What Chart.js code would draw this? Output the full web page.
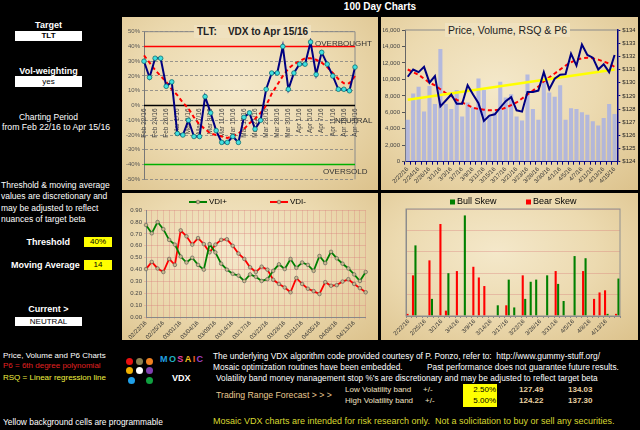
<!DOCTYPE html>
<html>
<head>
<meta charset="utf-8">
<script src="https://cdn.jsdelivr.net/npm/chart.js@4.4.0/dist/chart.umd.min.js"></script>
<style>
body{margin:0;background:#000;width:640px;height:430px;overflow:hidden;position:relative;font-family:"Liberation Sans",Arial,sans-serif;}
.t{position:absolute;white-space:pre;color:#fff;font-size:8px;line-height:10px;}
.b{font-weight:bold;}
.wbox{position:absolute;background:#fff;color:#000;font-size:8px;line-height:10px;text-align:center;}
.ybox{position:absolute;background:#ffff00;color:#000;font-size:8px;line-height:11px;text-align:center;}
.panel{position:absolute;background:radial-gradient(ellipse at 45% 40%,#f4e8ca 0%,#ecdab0 50%,#dcc28c 100%);}
.panel canvas{position:absolute;left:0;top:0;}
.ttl{position:absolute;white-space:pre;color:#222;background:#efe1bf;padding:0 3px;}
.dot{position:absolute;width:7px;height:7px;border-radius:50%;}
</style>
</head>
<body>
<div class="t b" style="left:122px;width:516px;top:2px;text-align:center;font-size:10px;">100 Day Charts</div>

<div class="t b" style="left:0;width:97px;top:20px;text-align:center;font-size:9px;">Target</div>
<div class="wbox b" style="left:15px;top:31px;width:67px;height:10px;">TLT</div>
<div class="t b" style="left:0;width:97px;top:66px;text-align:center;font-size:9px;">Vol-weighting</div>
<div class="wbox" style="left:15px;top:76px;width:67px;height:11px;line-height:11px;">yes</div>
<div class="t" style="left:0;width:97px;top:112px;text-align:center;font-size:8.5px;">Charting Period</div>
<div class="t" style="left:2px;top:122px;font-size:8.7px;">from Feb 22/16 to Apr 15/16</div>
<div class="t" style="left:1px;top:180px;line-height:11.3px;font-size:8.5px;">Threshold &amp; moving average
values are discretionary and
may be adjusted to reflect
nuances of target beta</div>
<div class="t b" style="left:0;width:70px;top:237px;text-align:right;font-size:9px;">Threshold</div>
<div class="ybox" style="left:84px;top:237px;width:28px;height:10px;line-height:10px;">40%</div>
<div class="t b" style="left:11px;top:260px;font-size:9px;">Moving Average</div>
<div class="ybox" style="left:84px;top:260px;width:28px;height:10px;line-height:10px;">14</div>
<div class="t b" style="left:0;width:97px;top:304px;text-align:center;font-size:9px;">Current &gt;</div>
<div class="wbox" style="left:15px;top:317px;width:67px;height:9px;line-height:9px;">NEUTRAL</div>

<div class="panel" style="left:122px;top:17px;width:256px;height:173px;"><canvas id="vdxChart" width="256" height="173"></canvas>
<div class="ttl b" style="left:72px;top:8px;font-size:10px;line-height:13px;">TLT:    VDX to Apr 15/16</div></div>
<div class="panel" style="left:381px;top:17px;width:257px;height:173px;"><canvas id="priceChart" width="257" height="173"></canvas>
<div class="ttl" style="left:64px;top:6px;font-size:10.5px;line-height:14px;">Price, Volume, RSQ &amp; P6</div></div>
<div class="panel" style="left:122px;top:193px;width:256px;height:147px;"><canvas id="vdiChart" width="256" height="147"></canvas></div>
<div class="panel" style="left:381px;top:193px;width:257px;height:147px;"><canvas id="skewChart" width="257" height="147"></canvas></div>

<div class="t" style="left:3px;top:351px;">Price, Volume and P6 Charts</div>
<div class="t" style="left:3px;top:361px;color:#e02020;">P6 = 6th degree polynomial</div>
<div class="t" style="left:3px;top:373px;color:#f0f040;">RSQ = Linear regression line</div>
<div class="t" style="left:3px;top:417px;font-size:8.4px;">Yellow background cells are programmable</div>

<div class="dot" style="left:126px;top:358px;background:#e81010;"></div>
<div class="dot" style="left:136px;top:358px;background:#8a8050;"></div>
<div class="dot" style="left:146px;top:358px;background:#f08020;"></div>
<div class="dot" style="left:126px;top:367px;background:#f0b000;"></div>
<div class="dot" style="left:136px;top:367px;background:#ffffff;"></div>
<div class="dot" style="left:146px;top:367px;background:#8040b0;"></div>
<div class="dot" style="left:128px;top:377px;background:#20a0e8;"></div>
<div class="dot" style="left:146px;top:377px;background:#10a040;"></div>
<div class="t b" style="left:160px;top:354px;font-size:9px;letter-spacing:1.4px;"><span style="color:#20a0e0">M</span><span style="color:#20b0c0">O</span><span style="color:#e040a0">S</span><span style="color:#f0c020">A</span><span style="color:#f06020">I</span><span style="color:#a040c0">C</span></div>
<div class="t b" style="left:172px;top:373px;font-size:9px;">VDX</div>

<div class="t" style="left:213px;top:351px;font-size:8.4px;">The underlying VDX algorithm code provided courtesy of P. Ponzo, refer to:  http://www.gummy-stuff.org/</div>
<div class="t" style="left:213px;top:362px;font-size:8.3px;">Mosaic optimization routines have been embedded.</div>
<div class="t" style="left:427px;top:362px;font-size:8.3px;">Past performance does not guarantee future results.</div>
<div class="t" style="left:216px;top:373px;font-size:8.3px;">Volatility band money management stop %'s are discretionary and may be adjusted to reflect target beta</div>
<div class="t" style="left:216px;top:390px;color:#e8c890;font-size:8.7px;">Trading Range Forecast &gt; &gt; &gt;</div>
<div class="t" style="left:345px;top:385px;color:#f0e0c0;">Low Volatility band</div>
<div class="t" style="left:423px;top:385px;color:#f0e0c0;">+/-</div>
<div class="t" style="left:345px;top:396px;color:#f0e0c0;">High Volatility band</div>
<div class="t" style="left:425px;top:396px;color:#f0e0c0;">+/-</div>
<div class="ybox" style="left:463px;top:384px;width:34px;height:23px;text-align:right;"><div style="padding-right:1px;">2.50%</div><div style="padding-right:1px;">5.00%</div></div>
<div class="t b" style="left:519px;top:385px;color:#e8d0a0;">127.49</div>
<div class="t b" style="left:568px;top:385px;color:#e8d0a0;">134.03</div>
<div class="t b" style="left:519px;top:396px;color:#e8d0a0;">124.22</div>
<div class="t b" style="left:568px;top:396px;color:#e8d0a0;">137.30</div>
<div class="t" style="left:213px;top:416px;color:#d8d830;font-size:9px;">Mosaic VDX charts are intended for risk research only.  Not a solicitation to buy or sell any securities.</div>

<script>
// trading days Feb 22/16 .. Apr 15/16
const days = ['2/22','2/23','2/24','2/25','2/26','2/29','3/1','3/2','3/3','3/4','3/7','3/8','3/9','3/10','3/11',
  '3/14','3/15','3/16','3/17','3/18','3/21','3/22','3/23','3/24','3/28','3/29','3/30','3/31','4/1',
  '4/4','4/5','4/6','4/7','4/8','4/11','4/12','4/13','4/14','4/15'];
const monthNames = {'2':'Feb','3':'Mar','4':'Apr'};

// VDX (%) and its 6th degree trend
const vdx = [30,19,32,32,13,16,-19,-20,-10,-21,-21,6,-5,-17,-25,-25,-21,-25,-8,-5,-16,
  -10,11,22,22,40,11,22,28,28,43,21,36,28,20,11,11,10,26];
const vdxP6 = [34,29,24,20,16,11,7,2,-2,-8,-13,-16,-19,-20,-21,-22,-21,-19,-16,-12,-9,
  -5,0,8,14,20,25,28,30,32,32,31,29,26,22,18,15,15,20];
const overbought = 40;
const oversold = -40;
const neutral = 0;

// price, volume, RSQ & P6
const volume = [5100,8300,9100,6100,9200,7000,13700,7000,6400,8700,5500,7200,6600,10100,8700,
  5600,6000,9700,7800,8200,5500,5000,10600,6400,5100,10000,8400,7900,9300,5100,
  6500,6400,6000,5700,4900,4400,5300,7000,5800];
const price = [130.45,131.0,130.8,131.2,130.0,130.5,128.2,128.65,129.1,128.4,128.4,129.8,129.1,128.45,127.1,
  127.5,127.6,128.1,128.6,128.9,127.9,127.8,129.3,129.3,129.4,130.8,129.5,130.3,130.6,130.65,
  132.2,131.3,132.9,132.1,131.9,131.0,131.4,130.8,132.1];
const priceP6 = [131.0,130.8,130.6,130.3,130.0,129.8,129.5,129.2,129.0,128.7,128.5,128.3,128.1,128.0,127.95,
  127.9,127.9,127.95,128.1,128.3,128.5,128.8,129.1,129.4,129.7,130.1,130.4,130.7,131.0,131.3,
  131.55,131.75,131.85,131.9,131.85,131.75,131.6,131.45,131.2];
const rsqEnds = [128.7, 131.0];

// VDI+ / VDI-
const vdiPlus = [0.775,0.705,0.80,0.74,0.65,0.61,0.51,0.46,0.50,0.44,0.40,0.615,0.545,0.45,0.40,
  0.365,0.35,0.305,0.36,0.34,0.305,0.32,0.39,0.445,0.405,0.49,0.415,0.46,0.44,0.39,
  0.515,0.455,0.55,0.495,0.45,0.41,0.36,0.305,0.38];
const vdiMinus = [0.405,0.465,0.41,0.38,0.49,0.44,0.73,0.68,0.61,0.665,0.615,0.545,0.61,0.65,0.655,
  0.60,0.535,0.49,0.42,0.38,0.425,0.40,0.315,0.28,0.25,0.21,0.33,0.28,0.24,0.22,
  0.195,0.295,0.265,0.27,0.30,0.32,0.28,0.245,0.21];

// skews
const bullSkew = [0,3.3,0,0,0.8,0,0,2.0,0,0,4.7,0,0,0,0,0,0.5,0,1.7,0.4,0,0.8,1.6,1.7,0,1.9,0,1.5,0.7,0,
  2.8,0,2.7,0,0,0,0.1,0,1.75];
const bearSkew = [0.1,1.9,0,0,2.6,0,4.3,0.25,0,2.1,0,0,2.3,1.8,1.4,0,0,0,0.5,0,0,1.9,0,0,0,0,0,2.1,0,0,
  0,0,2.1,0,0.8,1.1,1.2,0,0.1];

const vdxLabels = days.map(d => { const [m, dd] = d.split('/'); return monthNames[m] + ' ' + dd + '/16'; });
const shortLabels = days.map(d => d + '/16');
const padLabels = days.map(d => d.split('/').map(p => p.padStart(2, '0')).join('/') + '/16');

Chart.defaults.font.family = '"Liberation Sans", Arial, sans-serif';
Chart.defaults.font.size = 6;
Chart.defaults.color = '#333';
Chart.defaults.animation = false;
Chart.defaults.responsive = false;
Chart.defaults.plugins.legend.display = false;
Chart.defaults.plugins.tooltip.enabled = false;

function hline(ctx, x1, x2, y, color, w) {
  ctx.beginPath(); ctx.strokeStyle = color; ctx.lineWidth = w; ctx.setLineDash([]);
  ctx.moveTo(x1, y); ctx.lineTo(x2, y); ctx.stroke();
}

// thresholds, frame and rotated date labels of the VDX panel
const vdxDecor = {
  id: 'vdxDecor',
  beforeDatasetsDraw(chart) {
    const { ctx, chartArea: a, scales: { x, y } } = chart;
    ctx.save();
    hline(ctx, a.left, a.right, y.getPixelForValue(50), '#8a8a8a', 1);
    ctx.beginPath(); ctx.moveTo(a.right, a.top); ctx.lineTo(a.right, a.bottom); ctx.stroke();
    hline(ctx, a.left, a.right, y.getPixelForValue(neutral), '#000', 1.3);
    hline(ctx, a.left, a.right, y.getPixelForValue(overbought), '#ff0000', 1.5);
    hline(ctx, a.left, a.right, y.getPixelForValue(oversold), '#00b000', 1.5);
    ctx.fillStyle = '#333';
    ctx.font = '8px "Liberation Sans", Arial, sans-serif';
    ctx.textBaseline = 'alphabetic';
    ctx.fillText('OVERBOUGHT', a.right - 40, y.getPixelForValue(overbought) - 0.5);
    ctx.fillText('NEUTRAL', a.right - 20, y.getPixelForValue(neutral) + 17);
    ctx.fillText('OVERSOLD', a.right - 32, y.getPixelForValue(oversold) + 9);
    ctx.font = '6.5px "Liberation Sans", Arial, sans-serif';
    ctx.fillStyle = '#444';
    ctx.textAlign = 'right';
    ctx.textBaseline = 'middle';
    const y0 = y.getPixelForValue(neutral) + 3;
    vdxLabels.forEach((lab, i) => {
      if (i % 2) return;
      ctx.save();
      ctx.translate(x.getPixelForValue(i), y0);
      ctx.rotate(-Math.PI / 2);
      ctx.fillText(lab, 0, 0);
      ctx.restore();
    });
    ctx.restore();
  }
};

const topFrame = {
  id: 'topFrame',
  beforeDatasetsDraw(chart) {
    const { ctx, chartArea: a } = chart;
    ctx.save();
    hline(ctx, a.left, a.right, a.top, '#8a8a8a', 1);
    ctx.restore();
  }
};

const boxFrame = {
  id: 'boxFrame',
  afterDatasetsDraw(chart) {
    const { ctx, chartArea: a } = chart;
    ctx.save();
    ctx.strokeStyle = '#909090'; ctx.lineWidth = 1;
    ctx.strokeRect(a.left, a.top, a.right - a.left, a.bottom - a.top);
    ctx.restore();
  }
};

// small legend drawn at fixed spots
const miniLegend = {
  id: 'miniLegend',
  afterDraw(chart, args, opts) {
    const ctx = chart.ctx;
    ctx.save();
    ctx.font = opts.font;
    ctx.textBaseline = 'middle';
    ctx.textAlign = 'left';
    chart.data.datasets.forEach((ds, i) => {
      const px = opts.x[i];
      if (opts.kind === 'line') {
        ctx.strokeStyle = ds.borderColor; ctx.lineWidth = 2;
        ctx.beginPath(); ctx.moveTo(px, opts.y); ctx.lineTo(px + 18, opts.y); ctx.stroke();
        ctx.beginPath(); ctx.arc(px + 9, opts.y, 1.8, 0, Math.PI * 2);
        ctx.fillStyle = ds.pointBackgroundColor; ctx.fill();
        ctx.strokeStyle = '#555'; ctx.lineWidth = 0.6; ctx.stroke();
        ctx.fillStyle = '#000';
        ctx.fillText(ds.label, px + 20, opts.y);
      } else {
        ctx.fillStyle = ds.backgroundColor;
        ctx.fillRect(px, opts.y - 2.5, 5, 5);
        ctx.fillStyle = '#000';
        ctx.fillText(ds.label, px + 7, opts.y);
      }
    });
    ctx.restore();
  }
};

// VDX chart
new Chart(document.getElementById('vdxChart'), {
  type: 'line',
  data: {
    labels: vdxLabels,
    datasets: [
      { label: 'VDX', data: vdx, borderColor: '#000080', borderWidth: 2, pointRadius: 2.3,
        pointBackgroundColor: '#40e0e0', pointBorderColor: '#107070', pointBorderWidth: 0.8, order: 1 },
      { label: 'P6', data: vdxP6, borderColor: '#ff0000', borderWidth: 2, borderDash: [4, 3],
        pointRadius: 0, order: 2 }
    ]
  },
  options: {
    layout: { padding: { left: 4, right: 23, top: 14.7, bottom: 10.7 } },
    scales: {
      x: { display: false, offset: false },
      y: {
        min: -50, max: 50,
        ticks: { stepSize: 10, callback: v => v + '%', color: '#555', padding: 2 },
        grid: { color: '#808080', lineWidth: 0.8, tickLength: 2 },
        border: { color: '#777', dash: [3, 2] },
        afterFit: s => { s.width = 18; }
      }
    }
  },
  plugins: [vdxDecor]
});

// Price / volume chart
new Chart(document.getElementById('priceChart'), {
  type: 'bar',
  data: {
    labels: shortLabels,
    datasets: [
      { type: 'line', label: 'Price', data: price, yAxisID: 'y1', borderColor: '#000080', borderWidth: 2,
        pointRadius: 0, order: 1 },
      { type: 'line', label: 'RSQ', data: [{ x: shortLabels[0], y: rsqEnds[0] }, { x: shortLabels[shortLabels.length - 1], y: rsqEnds[1] }],
        yAxisID: 'y1', borderColor: '#ffff00', borderWidth: 2.5, pointRadius: 0, order: 2 },
      { type: 'line', label: 'P6', data: priceP6, yAxisID: 'y1', borderColor: '#ff0000', borderWidth: 2,
        borderDash: [4, 3], pointRadius: 0, order: 3 },
      { label: 'Volume', data: volume, yAxisID: 'y', backgroundColor: 'rgba(165,175,230,0.8)',
        barPercentage: 0.75, categoryPercentage: 1, order: 4 }
    ]
  },
  options: {
    layout: { padding: { left: 2, right: 2.7, top: 13, bottom: 0.3 } },
    scales: {
      x: {
        offset: true,
        grid: { display: true, drawOnChartArea: false, tickLength: 3, color: '#000080' },
        border: { color: '#000080' },
        ticks: { autoSkip: false, maxRotation: 45, minRotation: 45, padding: 1, color: '#333',
          callback: (v, i) => (i % 2 === 0 ? shortLabels[i] : '') },
        afterFit: s => { s.height = 28; }
      },
      y: {
        position: 'left', min: 0, max: 16000,
        ticks: { stepSize: 2000, callback: v => v.toLocaleString('en-US'), color: '#444', padding: 2 },
        grid: { drawOnChartArea: false, tickLength: 3, color: '#555' },
        border: { color: '#666' },
        afterFit: s => { s.width = 22; }
      },
      y1: {
        position: 'right', min: 124, max: 134,
        ticks: { stepSize: 1, callback: v => '$' + v, color: '#222', padding: 2 },
        grid: { drawOnChartArea: false, tickLength: 3, color: '#000080' },
        border: { color: '#000080', width: 1.5 },
        afterFit: s => { s.width = 18; }
      }
    }
  },
  plugins: [topFrame]
});

// VDI+ / VDI- chart
new Chart(document.getElementById('vdiChart'), {
  type: 'line',
  data: {
    labels: padLabels,
    datasets: [
      { label: 'VDI+', data: vdiPlus, borderColor: '#008000', borderWidth: 1.8, pointRadius: 1.8,
        pointBackgroundColor: '#c8b88a', pointBorderColor: '#555', pointBorderWidth: 0.6 },
      { label: 'VDI-', data: vdiMinus, borderColor: '#ff0000', borderWidth: 1.8, pointRadius: 1.8,
        pointBackgroundColor: '#c8b88a', pointBorderColor: '#555', pointBorderWidth: 0.6 }
    ]
  },
  options: {
    layout: { padding: { left: 4, right: 12.3, top: 17.1, bottom: 0 } },
    plugins: { miniLegend: { kind: 'line', x: [67, 148], y: 9, font: '8px "Liberation Sans", Arial, sans-serif' } },
    scales: {
      x: {
        offset: false,
        grid: { color: 'rgba(215,120,120,0.30)', tickLength: 2 },
        border: { color: '#888' },
        ticks: { autoSkip: false, maxRotation: 45, minRotation: 45, padding: 0, color: '#333',
          callback: (v, i) => (i % 3 === 0 ? padLabels[i] : '') },
        afterFit: s => { s.height = 22.7; }
      },
      y: {
        min: 0, max: 0.9,
        ticks: { stepSize: 0.1, callback: v => v.toFixed(2), color: '#444', padding: 2 },
        grid: { color: 'rgba(215,120,120,0.35)', tickLength: 2 },
        border: { color: '#888' },
        afterFit: s => { s.width = 20; }
      }
    }
  },
  plugins: [miniLegend]
});

// Bull / Bear skew chart
new Chart(document.getElementById('skewChart'), {
  type: 'bar',
  data: {
    labels: shortLabels,
    datasets: [
      { label: 'Bear Skew', data: bearSkew, backgroundColor: '#ff0000' },
      { label: 'Bull Skew', data: bullSkew, backgroundColor: '#008000' }
    ]
  },
  options: {
    layout: { padding: { left: 25, right: 18, top: 16, bottom: 0 } },
    datasets: { bar: { barPercentage: 0.85, categoryPercentage: 0.9 } },
    plugins: { miniLegend: { kind: 'box', x: [145, 69], y: 9, font: '9px "Liberation Sans", Arial, sans-serif' } },
    scales: {
      x: {
        offset: true,
        grid: { display: true, drawOnChartArea: false, tickLength: 2, color: '#888' },
        border: { color: '#888' },
        ticks: { autoSkip: false, maxRotation: 45, minRotation: 45, padding: 0, color: '#333',
          callback: (v, i) => (i % 3 === 0 ? shortLabels[i] : '') },
        afterFit: s => { s.height = 24; }
      },
      y: {
        min: 0, max: 5,
        ticks: { display: false, stepSize: 1 },
        grid: { color: 'rgba(215,120,120,0.35)', drawTicks: false },
        border: { color: '#888' },
        afterFit: s => { s.width = 0; }
      }
    }
  },
  plugins: [miniLegend, boxFrame]
});
</script>
</body>
</html>
